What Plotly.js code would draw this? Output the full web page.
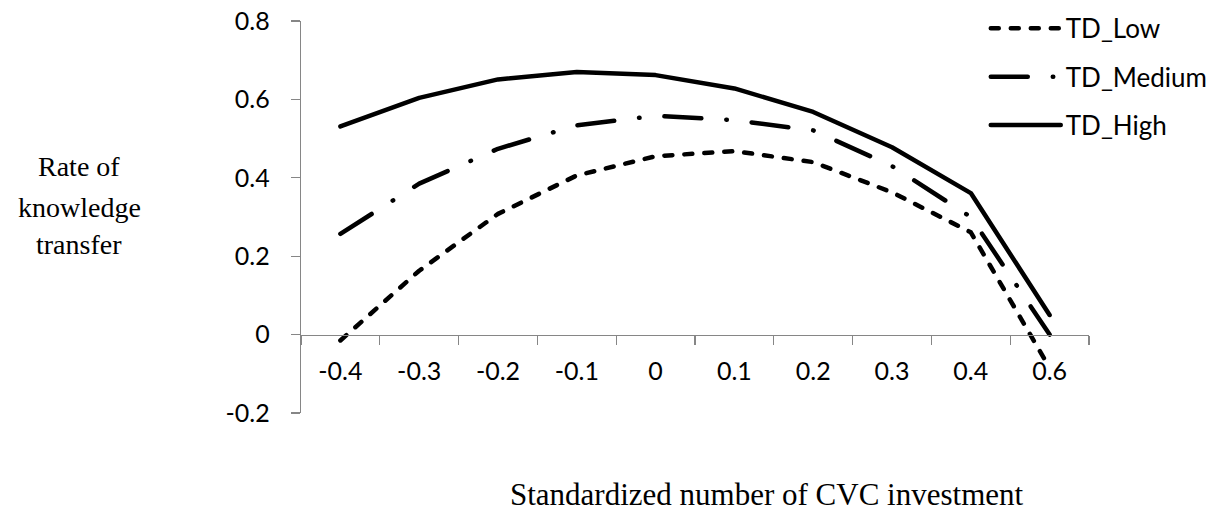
<!DOCTYPE html>
<html>
<head>
<meta charset="utf-8">
<script src="https://cdn.plot.ly/plotly-3.0.1.min.js"></script>
<style>
  html, body { margin: 0; padding: 0; background: #fff; }
  #chart { width: 1223px; height: 512px; }
  .js-line { stroke-linecap: round; stroke-linejoin: round; }
</style>
</head>
<body>
<div id="chart"></div>
<script>
// ---- data ----
var categories = ['-0.4', '-0.3', '-0.2', '-0.1', '0', '0.1', '0.2', '0.3', '0.4', '0.6'];
var tdLow    = [-0.015, 0.163, 0.308, 0.406, 0.455, 0.468, 0.440, 0.363, 0.261, -0.085];
var tdMedium = [0.257, 0.385, 0.474, 0.534, 0.558, 0.547, 0.521, 0.430, 0.300, 0.000];
var tdHigh   = [0.531, 0.604, 0.651, 0.670, 0.662, 0.628, 0.568, 0.478, 0.361, 0.050];
var seriesNames = ['TD_Low', 'TD_Medium', 'TD_High'];
var yTickVals = [-0.2, 0, 0.2, 0.4, 0.6, 0.8];
var yTickText = ['-0.2', '0', '0.2', '0.4', '0.6', '0.8'];
var yTitleLines = ['Rate of', 'knowledge', 'transfer'];
var xTitle = 'Standardized number of CVC investment';

var tickFont = {family: 'Lato, "Open Sans", sans-serif', size: 25, color: '#000'};
var axisGray = '#868686';

function mk(name, y, dash, grp) {
  return {
    type: 'scatter', mode: 'lines', name: name, x: categories, y: y,
    legendgroup: grp,
    line: {color: '#000', width: 4.5, dash: dash},
    hoverinfo: 'skip'
  };
}

var data = [
  mk(seriesNames[0], tdLow, '8px,12px', 'g1'),
  mk(seriesNames[1], tdMedium, '37px,25px,0.5px,25px', 'g2'),
  mk(seriesNames[2], tdHigh, 'solid', 'g3')
];

var serif = '"Liberation Serif", "Times New Roman", serif';
var annotations = [];
var yTitleY = [0.6276, 0.5255, 0.4286];
yTitleLines.forEach(function (t, i) {
  annotations.push({
    text: t, xref: 'paper', yref: 'paper', x: -0.2817, y: yTitleY[i],
    xanchor: 'center', yanchor: 'middle', showarrow: false,
    font: {family: serif, size: 28, color: '#000'}
  });
});
annotations.push({
  text: xTitle, xref: 'paper', yref: 'paper', x: 0.591, y: -0.209,
  xanchor: 'center', yanchor: 'middle', showarrow: false,
  font: {family: serif, size: 31, color: '#000'}
});

var layout = {
  width: 1223, height: 512,
  margin: {l: 301, r: 134, t: 21, b: 99, pad: 0, autoexpand: false},
  paper_bgcolor: '#fff', plot_bgcolor: '#fff',
  showlegend: true,
  legend: {
    x: 0.869, xanchor: 'left', y: 1.041, yanchor: 'top',
    font: {family: 'Lato, "Open Sans", sans-serif', size: 26, color: '#000'},
    traceorder: 'grouped', tracegroupgap: 11.5, itemwidth: 70,
    bgcolor: 'rgba(0,0,0,0)'
  },
  xaxis: {
    type: 'category', range: [-0.5, 9.5],
    anchor: 'free', position: 0.2,
    showline: true, linecolor: axisGray, linewidth: 1.3,
    ticks: 'outside', ticklen: 9, tickcolor: axisGray, tickwidth: 1.3,
    tickson: 'boundaries',
    showgrid: false, zeroline: false,
    tickfont: tickFont, ticklabelstandoff: 14,
    fixedrange: true
  },
  yaxis: {
    range: [-0.2, 0.8],
    tickvals: yTickVals, ticktext: yTickText,
    showline: true, linecolor: axisGray, linewidth: 1.3,
    ticks: 'outside', ticklen: 9, tickcolor: axisGray, tickwidth: 1.3,
    showgrid: false, zeroline: false,
    tickfont: tickFont, ticklabelstandoff: 16,
    fixedrange: true
  },
  annotations: annotations
};

Plotly.newPlot('chart', data, layout, {staticPlot: true, displayModeBar: false});
</script>
</body>
</html>
